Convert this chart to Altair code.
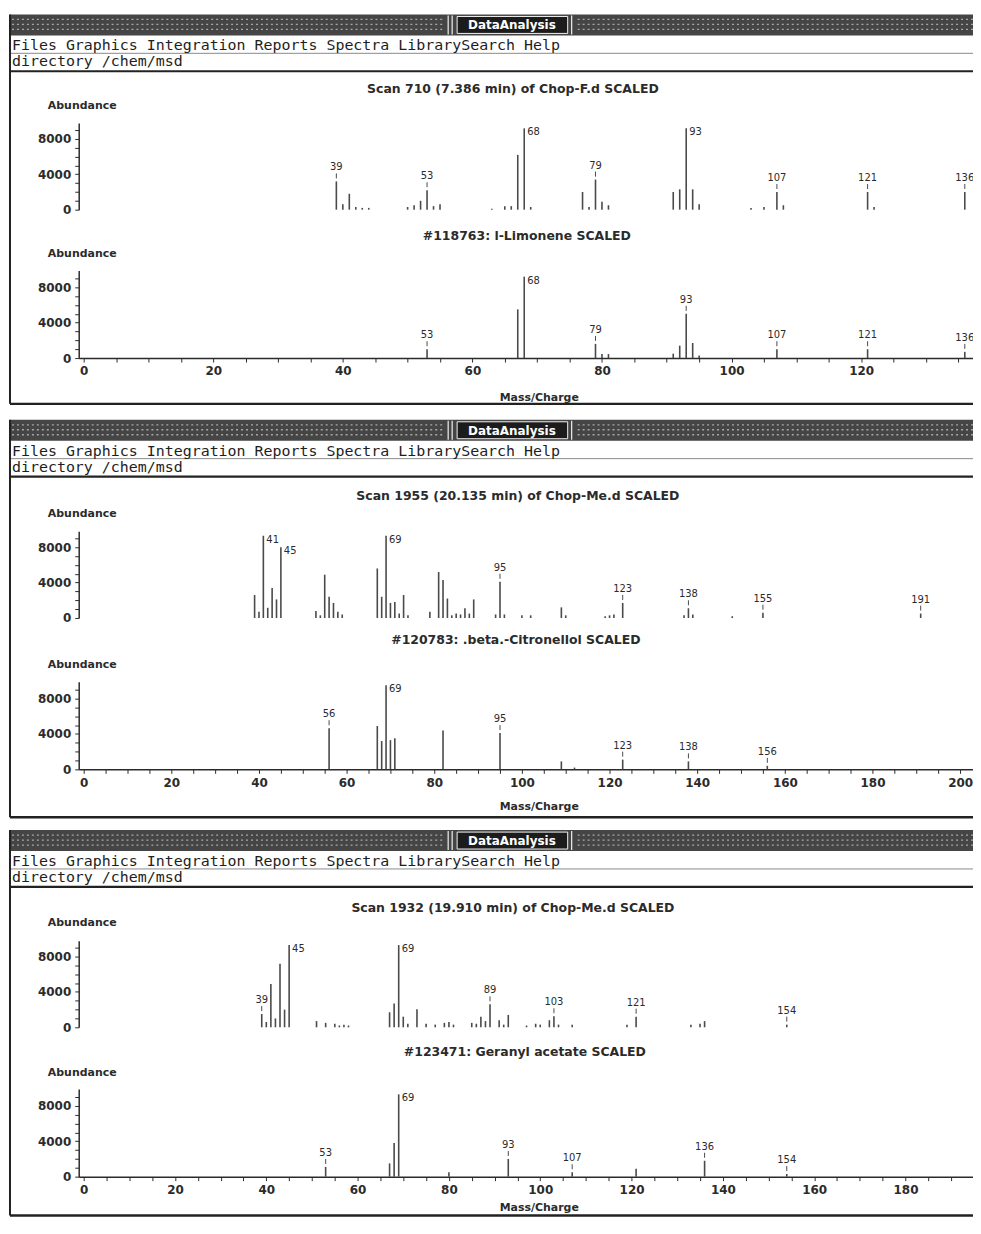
import altair as alt
import pandas as pd

W, H = 969, 1212
X0 = 71

# ---------------- data ----------------
# Panel 1 : Scan 710 (7.386 min) of Chop-F.d  vs  #118763 l-Limonene
p1_scan_mz = [39, 40, 41, 42, 43, 44, 50, 51, 52, 53, 54, 55, 63, 65, 66, 67, 68, 69,
              77, 78, 79, 80, 81, 91, 92, 93, 94, 95, 103, 105, 107, 108, 121, 122, 136]
p1_scan_ab = [3200, 600, 1800, 300, 200, 200, 300, 500, 1000, 2200, 400, 600, 100, 400, 400, 6200, 9200, 300,
              2000, 300, 3400, 900, 500, 2000, 2300, 9200, 2300, 600, 200, 300, 2000, 500, 2000, 300, 2000]
p1_scan_lab = [39, 53, 68, 79, 93, 107, 121, 136]
p1_lib_mz = [53, 67, 68, 79, 80, 81, 91, 92, 93, 94, 95, 107, 121, 136]
p1_lib_ab = [1000, 5500, 9200, 1600, 450, 450, 500, 1400, 5000, 1700, 300, 1000, 1000, 700]
p1_lib_lab = [53, 68, 79, 93, 107, 121, 136]

# Panel 2 : Scan 1955 (20.135 min) of Chop-Me.d  vs  #120783 .beta.-Citronellol
p2_scan_mz = [39, 40, 41, 42, 43, 44, 45, 53, 54, 55, 56, 57, 58, 59, 67, 68, 69, 70, 71, 72, 73, 74,
              79, 81, 82, 83, 84, 85, 86, 87, 88, 89, 94, 95, 96, 100, 102, 109, 110, 119, 120, 121,
              123, 137, 138, 139, 148, 155, 191]
p2_scan_ab = [2600, 700, 9300, 1150, 3400, 2100, 8000, 800, 300, 4900, 2400, 1700, 700, 400, 5600, 2400,
              9300, 1700, 1800, 500, 2600, 300, 700, 5200, 4300, 2200, 300, 500, 400, 1100, 500, 2100,
              400, 4100, 400, 300, 300, 1200, 300, 200, 300, 400, 1700, 300, 1100, 400, 200, 600, 500]
p2_scan_lab = [41, 45, 69, 95, 123, 138, 155, 191]
p2_lib_mz = [56, 67, 68, 69, 70, 71, 82, 95, 109, 112, 123, 138, 156]
p2_lib_ab = [4650, 4900, 3200, 9500, 3300, 3500, 4400, 4100, 900, 200, 1100, 900, 400]
p2_lib_lab = [56, 69, 95, 123, 138, 156]

# Panel 3 : Scan 1932 (19.910 min) of Chop-Me.d  vs  #123471 Geranyl acetate
p3_scan_mz = [39, 40, 41, 42, 43, 44, 45, 51, 53, 55, 56, 57, 58, 67, 68, 69, 70, 71, 73, 75, 77, 79,
              80, 81, 85, 86, 87, 88, 89, 91, 92, 93, 97, 99, 100, 102, 103, 104, 107, 119, 121, 133,
              135, 136, 154]
p3_scan_ab = [1500, 600, 4900, 1000, 7200, 2000, 9300, 700, 500, 400, 200, 300, 200, 1700, 2700, 9300,
              1200, 400, 2050, 400, 300, 500, 600, 300, 500, 400, 1200, 700, 2600, 800, 300, 1400, 200,
              400, 300, 800, 1250, 300, 300, 300, 1200, 300, 400, 700, 300]
p3_scan_lab = [39, 45, 69, 89, 103, 121, 154]
p3_lib_mz = [53, 67, 68, 69, 80, 93, 107, 121, 136, 154]
p3_lib_ab = [1100, 1500, 3800, 9300, 500, 2000, 500, 900, 1800, 300]
p3_lib_lab = [53, 69, 93, 107, 136, 154]

scan_titles = ["Scan 710 (7.386 min) of Chop-F.d SCALED",
               "Scan 1955 (20.135 min) of Chop-Me.d SCALED",
               "Scan 1932 (19.910 min) of Chop-Me.d SCALED"]
lib_titles = ["#118763: l-Limonene SCALED",
              "#120783: .beta.-Citronellol SCALED",
              "#123471: Geranyl acetate SCALED"]
x_max = [136.5, 201.8, 193.7]
menu_text = "Files Graphics Integration Reports Spectra LibrarySearch Help"
dir_text = "directory /chem/msd"

# ---------------- layout (pixels) ----------------
panels = [
    dict(T=4, yu0=200, yl0=349, sx=507, sy=79, lx=521, ly=226, mcx=533, mcy=40, bottom=395),
    dict(T=411, yu0=610, yl0=762, sx=512, sy=488, lx=510, ly=632, mcx=533, mcy=37, bottom=810),
    dict(T=823, yu0=1021, yl0=1171, sx=507, sy=901, lx=519, ly=1046, mcx=533, mcy=31, bottom=1210),
]

FONT = "DejaVu Sans"
MONO = "DejaVu Sans Mono"
INK = "#2b2b2b"
BAR = "#4a4a4a"


def spectrum(mz, ab, labels, xmax, y0, ytop, ymax, lower, mcx=None, mcy=None):
    df = pd.DataFrame({"mz": mz, "ab": ab})
    lab = df[df["mz"].isin(labels)]
    hi = lab[lab["ab"] >= 8000]
    lo = lab[lab["ab"] < 8000]
    xscale = alt.Scale(domain=[0, xmax], range=[X0, W], nice=False, zero=False)
    if lower:
        xaxis = alt.Axis(orient="bottom", offset=y0 - H, values=list(range(0, int(xmax) + 1, 5)),
                         labelExpr="datum.value % 20 == 0 ? '' + datum.value : ''",
                         tickSize=4, tickColor=INK, domainColor=INK, domainWidth=1.5, tickWidth=1,
                         labelPadding=4, labelFont=FONT, labelFontSize=12, labelFontWeight="bold",
                         labelColor=INK, labelFlush=False, labelOverlap=False, grid=False,
                         title="Mass/Charge", titleX=mcx, titleY=mcy, titleAngle=0,
                         titleAlign="center", titleBaseline="middle", titleFont=FONT,
                         titleFontSize=11, titleFontWeight="bold", titleColor=INK)
    else:
        xaxis = None
    yaxis = alt.Axis(orient="left", offset=-X0,
                     values=[v for v in range(0, 10000, 1000) if v <= ymax],
                     labelExpr="datum.value % 4000 == 0 ? '' + datum.value : ''",
                     tickSize=4, tickColor=INK, domainColor=INK, domainWidth=1.5, tickWidth=1,
                     labelPadding=4, labelFont=FONT, labelFontSize=12, labelFontWeight="bold",
                     labelColor=INK, labelOverlap=False, labelFlush=False, grid=False,
                     title="Abundance", titleX=3, titleY=y0 - 105, titleAngle=0,
                     titleAlign="center", titleBaseline="middle", titleFont=FONT,
                     titleFontSize=11, titleFontWeight="bold", titleColor=INK)
    X = alt.X("mz:Q", scale=xscale, axis=xaxis)
    Y = alt.Y("ab:Q", scale=alt.Scale(domain=[0, ymax], range=[y0, ytop], nice=False), axis=yaxis)
    layers = [alt.Chart(df).mark_bar(size=1.6, color=BAR).encode(x=X, y=Y)]
    if len(lo):
        layers.append(alt.Chart(lo).mark_rule(color=BAR, strokeWidth=1, yOffset=-3, y2Offset=-8)
                      .encode(x=X, y=Y, y2=alt.Y2("ab:Q")))
        layers.append(alt.Chart(lo).mark_text(font=FONT, fontSize=10, color=INK, dy=-14,
                                              align="center", baseline="middle")
                      .encode(x=X, y=Y, text=alt.Text("mz:Q", format="d")))
    if len(hi):
        layers.append(alt.Chart(hi).mark_text(font=FONT, fontSize=10, color=INK, dx=3, dy=4,
                                              align="left", baseline="middle")
                      .encode(x=X, y=Y, text=alt.Text("mz:Q", format="d")))
    return alt.layer(*layers)


# ---------------- decorations ----------------
rect_rows, box_rows, rule_rows, dash_rows = [], [], [], []
menu_rows, title_rows, da_rows = [], [], []
for i, p in enumerate(panels):
    T = p["T"]
    rect_rows.append(dict(x=2, x2=W, y=T, y2=T + 21, c="#454545"))
    box_rows.append(dict(x=451, x2=562, y=T + 2, y2=T + 19))
    for yy in (T + 5, T + 10, T + 15):
        dash_rows.append(dict(x=4, x2=438, y=yy, y2=yy))
        dash_rows.append(dict(x=572, x2=W, y=yy, y2=yy))
    for xx in (442, 446, 566):
        rule_rows.append(dict(x=xx, x2=xx, y=T + 1, y2=T + 20, c="#f0f0f0", w=1.2))
    rule_rows.append(dict(x=2, x2=W, y=T + 39, y2=T + 39, c="#8a8a8a", w=1))
    rule_rows.append(dict(x=2, x2=W, y=T + 57, y2=T + 57, c="#222222", w=2.2))
    rule_rows.append(dict(x=2, x2=2, y=T, y2=p["bottom"], c="#222222", w=2))
    rule_rows.append(dict(x=2, x2=W, y=p["bottom"], y2=p["bottom"], c="#222222", w=2.5))
    da_rows.append(dict(x=506, y=T + 11, t="DataAnalysis"))
    menu_rows.append(dict(x=4, y=T + 31, t=menu_text))
    menu_rows.append(dict(x=4, y=T + 47, t=dir_text))
    title_rows.append(dict(x=p["sx"], y=p["sy"], t=scan_titles[i]))
    title_rows.append(dict(x=p["lx"], y=p["ly"], t=lib_titles[i]))

PX = lambda f: alt.X(f, scale=None, axis=None)
PY = lambda f: alt.Y(f, scale=None, axis=None)

deco = [
    alt.Chart(pd.DataFrame(rect_rows)).mark_rect().encode(
        x=PX("x:Q"), x2="x2:Q", y=PY("y:Q"), y2="y2:Q",
        color=alt.Color("c:N", scale=None, legend=None)),
    alt.Chart(pd.DataFrame(dash_rows)).mark_rule(color="#a8a8a8", strokeWidth=1.3, strokeDash=[2, 3]).encode(
        x=PX("x:Q"), x2="x2:Q", y=PY("y:Q"), y2="y2:Q"),
    alt.Chart(pd.DataFrame(box_rows)).mark_rect(fill="#1c1c1c", stroke="#f2f2f2", strokeWidth=1).encode(
        x=PX("x:Q"), x2="x2:Q", y=PY("y:Q"), y2="y2:Q"),
    alt.Chart(pd.DataFrame(rule_rows)).mark_rule().encode(
        x=PX("x:Q"), x2="x2:Q", y=PY("y:Q"), y2="y2:Q",
        color=alt.Color("c:N", scale=None, legend=None),
        strokeWidth=alt.StrokeWidth("w:Q", scale=None, legend=None)),
    alt.Chart(pd.DataFrame(da_rows)).mark_text(font=FONT, fontSize=12, fontWeight="bold", color="white",
                                               align="center", baseline="middle").encode(
        x=PX("x:Q"), y=PY("y:Q"), text="t:N"),
    alt.Chart(pd.DataFrame(menu_rows)).mark_text(font=MONO, fontSize=15, color="#1e1e1e",
                                                 align="left", baseline="middle").encode(
        x=PX("x:Q"), y=PY("y:Q"), text="t:N"),
    alt.Chart(pd.DataFrame(title_rows)).mark_text(font=FONT, fontSize=12.5, fontWeight="bold", color=INK,
                                                  align="center", baseline="middle").encode(
        x=PX("x:Q"), y=PY("y:Q"), text="t:N"),
]

# ---------------- spectra ----------------
data = [
    (p1_scan_mz, p1_scan_ab, p1_scan_lab, p1_lib_mz, p1_lib_ab, p1_lib_lab),
    (p2_scan_mz, p2_scan_ab, p2_scan_lab, p2_lib_mz, p2_lib_ab, p2_lib_lab),
    (p3_scan_mz, p3_scan_ab, p3_scan_lab, p3_lib_mz, p3_lib_ab, p3_lib_lab),
]
spectra = []
for i, p in enumerate(panels):
    smz, sab, slab, lmz, lab_, llab = data[i]
    spectra.append(spectrum(smz, sab, slab, x_max[i], p["yu0"], p["yu0"] - 87, 9800, False))
    spectra.append(spectrum(lmz, lab_, llab, x_max[i], p["yl0"], p["yl0"] - 88, 9900, True,
                            mcx=p["mcx"], mcy=p["mcy"]))

chart = alt.layer(*deco, *spectra).resolve_scale(x="independent", y="independent").properties(
    width=W, height=H, padding=0, autosize=alt.AutoSizeParams(type="none"),
    background="white"
).configure_view(strokeWidth=0).configure_axis(grid=False)

chart.save("out.html", embed_options={"renderer": "svg", "actions": False})
